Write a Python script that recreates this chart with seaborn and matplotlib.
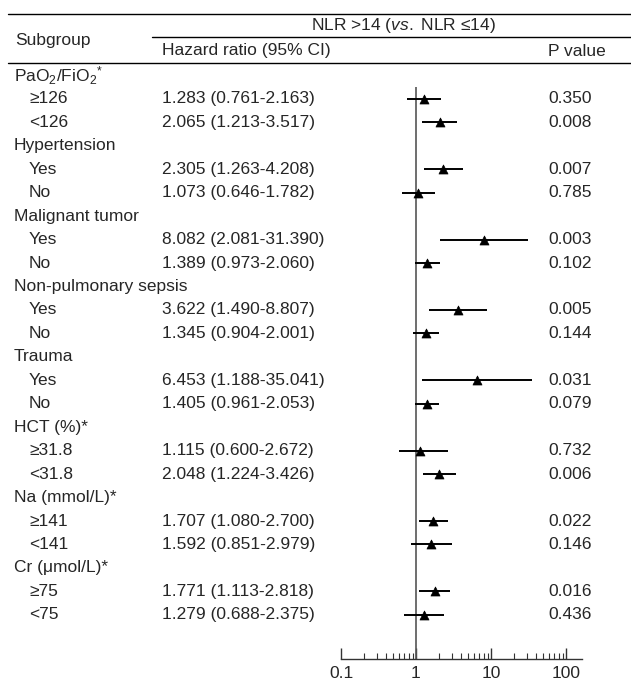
import matplotlib
matplotlib.use("Agg")
import matplotlib.pyplot as plt
import matplotlib.transforms as mtransforms
from matplotlib.lines import Line2D
from matplotlib.ticker import NullFormatter, FixedLocator, FixedFormatter
import seaborn as sns
import pandas as pd

# data
groups = [r"PaO$_2$/FiO$_2$$^{*}$", "Hypertension", "Malignant tumor", "Non-pulmonary sepsis",
          "Trauma", "HCT (%)*", "Na (mmol/L)*", "Cr (μmol/L)*"]
sub_labels = [["≥126", "<126"], ["Yes", "No"], ["Yes", "No"], ["Yes", "No"],
              ["Yes", "No"], ["≥31.8", "<31.8"], ["≥141", "<141"], ["≥75", "<75"]]
hr = [1.283, 2.065, 2.305, 1.073, 8.082, 1.389, 3.622, 1.345,
      6.453, 1.405, 1.115, 2.048, 1.707, 1.592, 1.771, 1.279]
ci_low = [0.761, 1.213, 1.263, 0.646, 2.081, 0.973, 1.490, 0.904,
          1.188, 0.961, 0.600, 1.224, 1.080, 0.851, 1.113, 0.688]
ci_high = [2.163, 3.517, 4.208, 1.782, 31.390, 2.060, 8.807, 2.001,
           35.041, 2.053, 2.672, 3.426, 2.700, 2.979, 2.818, 2.375]
p_values = ["0.350", "0.008", "0.007", "0.785", "0.003", "0.102", "0.005", "0.144",
            "0.031", "0.079", "0.732", "0.006", "0.022", "0.146", "0.016", "0.436"]
x_ticks = [0.1, 1, 10, 100]
x_tick_labels = ["0.1", "1", "10", "100"]

sns.set_style("white")
plt.rcParams["font.family"] = ["Liberation Sans", "DejaVu Sans"]
plt.rcParams["mathtext.fontset"] = "custom"
plt.rcParams["mathtext.rm"] = "Liberation Sans"
plt.rcParams["mathtext.it"] = "Liberation Sans:italic"

W, H = 631, 681
fig = plt.figure(figsize=(W / 100, H / 100), dpi=100)

# forest panel, placed in pixel terms
x0, x1 = 341, 582
y_top, y_bot = 75.5, 659
step = 23.45
ax = fig.add_axes([x0 / W, 1 - y_bot / H, (x1 - x0) / W, (y_bot - y_top) / H])

# row positions: group header then two subgroups
rows = []
df_rows = []
r = 0
for g, subs in zip(groups, sub_labels):
    rows.append(("group", g, r))
    r += 1
    for s in subs:
        rows.append(("sub", s, r))
        df_rows.append(r)
        r += 1

df = pd.DataFrame({"row": df_rows, "hr": hr, "lo": ci_low, "hi": ci_high, "p": p_values})

ax.hlines(df["row"], df["lo"], df["hi"], color="black", lw=1.4, zorder=2)
sns.scatterplot(data=df, x="hr", y="row", marker="^", color="black", edgecolor="black",
                s=42, ax=ax, zorder=3, legend=False)

ax.set_xscale("log")
ymax = (y_bot - y_top) / step
ax.set_xlim(0.1, 10 ** (-1 + (x1 - x0) / 75))
ax.set_ylim(ymax, 0)
ax.vlines(1, 0.5, ymax, color="#555555", lw=1.2, zorder=1)

for s in ["top", "right", "left"]:
    ax.spines[s].set_visible(False)
ax.spines["bottom"].set_color("#333333")
ax.spines["bottom"].set_linewidth(1.0)
ax.set_yticks([])
ax.set_xlabel("")
ax.set_ylabel("")
minor = [m * 10 ** e for e in (-1, 0, 1) for m in range(2, 10)]
ax.xaxis.set_major_locator(FixedLocator(x_ticks))
ax.xaxis.set_major_formatter(FixedFormatter(x_tick_labels))
ax.xaxis.set_minor_locator(FixedLocator(minor))
ax.xaxis.set_minor_formatter(NullFormatter())
ax.tick_params(axis="x", which="both", bottom=True, top=False)
ax.tick_params(axis="x", which="major", direction="in", length=8, width=1.0,
               color="#333333", labelsize=12.5, pad=5)
ax.tick_params(axis="x", which="minor", direction="in", length=4.5, width=0.8, color="#333333")
ax.set_facecolor("none")

# table text
trans = mtransforms.blended_transform_factory(fig.transFigure, ax.transData)
fs = 12.5
k = 0
for kind, label, rr in rows:
    if kind == "group":
        ax.text(14 / W, rr, label, transform=trans, va="center", ha="left", fontsize=fs)
    else:
        ax.text(29 / W, rr, label, transform=trans, va="center", ha="left", fontsize=fs)
        txt = f"{hr[k]:.3f} ({ci_low[k]:.3f}-{ci_high[k]:.3f})"
        ax.text(162 / W, rr, txt, transform=trans, va="center", ha="left", fontsize=fs)
        ax.text(548 / W, rr, p_values[k], transform=trans, va="center", ha="left", fontsize=fs)
        k += 1

# header
def fy(py):
    return 1 - py / H

fig.add_artist(Line2D([8 / W, 1], [fy(14), fy(14)], color="black", lw=1.0))
fig.add_artist(Line2D([152 / W, 1], [fy(37), fy(37)], color="black", lw=1.0))
fig.add_artist(Line2D([8 / W, 1], [fy(62.5), fy(62.5)], color="black", lw=1.0))
fig.text(403 / W, fy(25.5), r"NLR >14 ($\it{vs.}$ NLR ≤14)", ha="center", va="center", fontsize=fs)
fig.text(15 / W, fy(41), "Subgroup", ha="left", va="center", fontsize=fs)
fig.text(162 / W, fy(51), "Hazard ratio (95% CI)", ha="left", va="center", fontsize=fs)
fig.text(548 / W, fy(51), "P value", ha="left", va="center", fontsize=fs)

fig.savefig("out.png", dpi=100)
plt.close(fig)
